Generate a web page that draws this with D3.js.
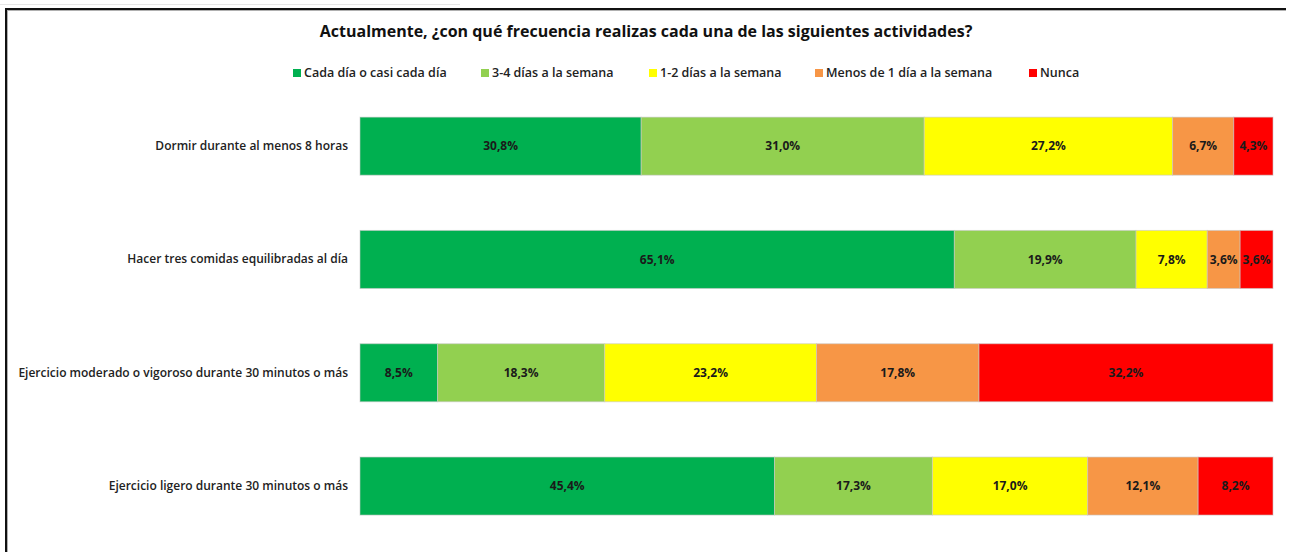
<!DOCTYPE html>
<html>
<head>
<meta charset="utf-8">
<script src="https://cdn.jsdelivr.net/npm/d3@7"></script>
<style>
  body { margin: 0; background: #fff; }
  svg { display: block; font-family: "Open Sans", "Lato", sans-serif; }
</style>
</head>
<body>
<div id="vis-holder"></div>
<script>
// Chart data
const activities = [
  "Dormir durante al menos 8 horas",
  "Hacer tres comidas equilibradas al día",
  "Ejercicio moderado o vigoroso durante 30 minutos o más",
  "Ejercicio ligero durante 30 minutos o más"
];
const frequencies = [
  "Cada día o casi cada día",
  "3-4 días a la semana",
  "1-2 días a la semana",
  "Menos de 1 día a la semana",
  "Nunca"
];
const cadaDia   = [30.8, 65.1, 8.5, 45.4];
const tresCuatro = [31.0, 19.9, 18.3, 17.3];
const unoDos    = [27.2, 7.8, 23.2, 17.0];
const menosUno  = [6.7, 3.6, 17.8, 12.1];
const nunca     = [4.3, 3.6, 32.2, 8.2];

const colors = ["#00B050", "#92D050", "#FFFF00", "#F79646", "#FF0000"];

// Set dimensions
const width = 1291;
const height = 552;

const svg = d3.select("#vis-holder")
  .append("svg")
  .attr("width", width)
  .attr("height", height);

// faint strip above the chart box
svg.append("line")
  .attr("x1", 0).attr("x2", 460)
  .attr("y1", 4.5).attr("y2", 4.5)
  .attr("stroke", "#e6e6e6");

// chart frame (top + left edges only)
svg.append("path")
  .attr("d", "M6.5,552 V9.5 H1286")
  .attr("fill", "none")
  .attr("stroke", "#b0b0b0")
  .attr("stroke-width", 3);
svg.append("path")
  .attr("d", "M6,552 V9 H1286")
  .attr("fill", "none")
  .attr("stroke", "#111")
  .attr("stroke-width", 2);

// Title
svg.append("text")
  .attr("x", 646)
  .attr("y", 37)
  .attr("text-anchor", "middle")
  .attr("font-size", "16px")
  .attr("font-weight", "bold")
  .attr("fill", "#111")
  .text("Actualmente, ¿con qué frecuencia realizas cada una de las siguientes actividades?");

// Legend
const legendX = [293, 481, 649, 815, 1029];
const legend = svg.append("g")
  .selectAll("g")
  .data(frequencies)
  .enter()
  .append("g")
  .attr("transform", (d, i) => `translate(${legendX[i]}, 73)`);

legend.append("rect")
  .attr("x", 0).attr("y", -4)
  .attr("width", 8).attr("height", 8)
  .attr("fill", (d, i) => colors[i]);

legend.append("text")
  .attr("x", 11)
  .attr("y", 4)
  .attr("font-size", "12.5px")
  .attr("font-weight", "600")
  .attr("fill", "#222")
  .text(d => d);

// Stack the series
const rows = activities.map((a, i) => ({
  activity: a,
  [frequencies[0]]: cadaDia[i],
  [frequencies[1]]: tresCuatro[i],
  [frequencies[2]]: unoDos[i],
  [frequencies[3]]: menosUno[i],
  [frequencies[4]]: nunca[i]
}));
const series = d3.stack().keys(frequencies)(rows);

// Scales
const x = d3.scaleLinear()
  .domain([0, 100])
  .range([360, 1273]);

const y = d3.scaleBand()
  .domain(activities)
  .range([89.5, 542.7])
  .paddingInner(0.488)
  .paddingOuter(0.244);

// Category axis (labels only)
svg.append("g")
  .attr("transform", "translate(360, 0)")
  .call(d3.axisLeft(y).tickSize(0).tickPadding(12))
  .call(g => g.select(".domain").remove())
  .call(g => g.selectAll("text")
    .attr("font-family", "'Open Sans', sans-serif")
    .attr("font-size", "12px")
    .attr("font-weight", "600")
    .attr("fill", "#222"));

// Bars
const layer = svg.append("g")
  .selectAll("g")
  .data(series)
  .enter()
  .append("g")
  .attr("fill", (d, i) => colors[i]);

layer.selectAll("rect")
  .data(d => d)
  .enter()
  .append("rect")
  .attr("x", d => x(d[0]))
  .attr("y", d => y(d.data.activity))
  .attr("width", d => x(d[1]) - x(d[0]))
  .attr("height", y.bandwidth())
  .attr("stroke", "rgba(200,200,200,0.6)")
  .attr("stroke-width", 1);

// Value labels
layer.selectAll("text")
  .data(d => d)
  .enter()
  .append("text")
  .attr("x", d => (x(d[0]) + x(d[1])) / 2)
  .attr("y", d => y(d.data.activity) + y.bandwidth() / 2)
  .attr("dy", "0.35em")
  .attr("text-anchor", "middle")
  .attr("font-size", "12px")
  .attr("font-weight", "bold")
  .attr("fill", "#1a1a1a")
  .text(d => d3.format(".1f")(d[1] - d[0]).replace(".", ",") + "%");
</script>
</body>
</html>
